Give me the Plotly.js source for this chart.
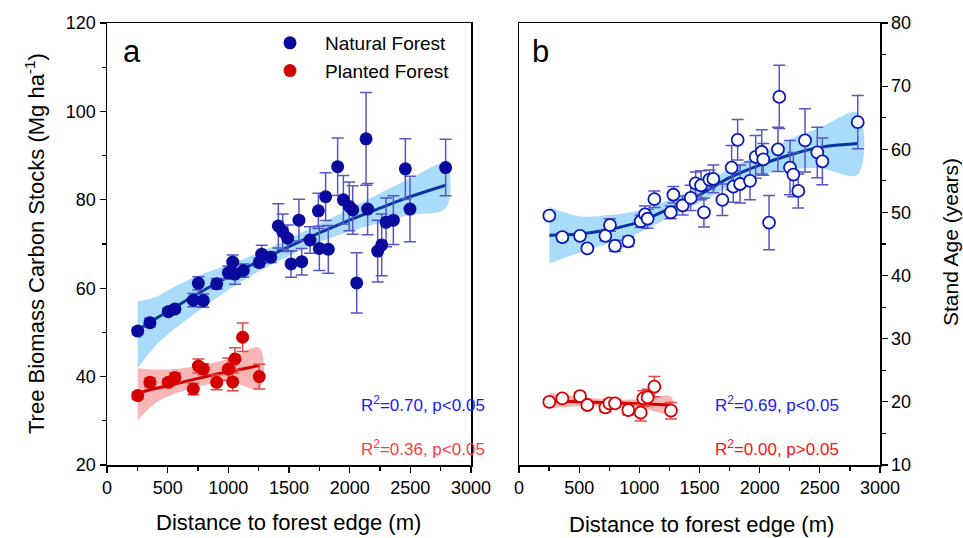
<!DOCTYPE html>
<html><head><meta charset="utf-8">
<script src="https://cdn.plot.ly/plotly-3.0.1.min.js"></script>
<style>html,body{margin:0;padding:0;background:#fff}#chart{width:963px;height:538px}</style>
</head><body><div id="chart"></div>
<script>
// ---- Panel a: Tree biomass carbon stocks ----
const natA_x = [253,354,505,560,711,753,794,904,1000,1036,1055,1124,1255,1275,1349,1412,1448,1489,1517,1582,1605,1673,1742,1750,1802,1824,1901,1948,1997,2025,2058,2135,2148,2231,2264,2300,2360,2459,2497,2791];
const natA_y = [50.3,52.2,54.7,55.3,57.3,61.1,57.2,61.0,63.5,65.9,63.2,64.0,65.8,67.7,67.0,74.1,72.8,71.3,65.5,75.4,66.0,70.9,77.5,69.0,80.7,68.8,87.5,80.0,78.5,77.7,61.2,93.8,77.9,68.4,69.8,74.9,75.4,87.0,77.9,87.3];
const natA_e = [0.8,1.0,0.8,0.8,1.5,1.5,1.5,1.2,1.5,1.6,2.3,1.5,1.0,2.0,1.2,5.0,4.0,3.0,3.0,4.7,3.0,3.0,4.0,5.0,5.4,5.4,6.5,5.5,5.5,5.5,6.8,10.5,5.8,7.0,7.0,5.5,5.5,6.8,7.4,6.4];
const plaA_x = [253,354,505,560,711,753,794,904,1000,1036,1055,1118,1255];
const plaA_y = [35.7,38.7,38.7,39.8,37.2,42.4,41.7,38.7,41.7,38.8,44.0,48.9,40.0];
const plaA_e = [0.8,1.0,0.8,1.0,1.3,1.6,1.2,1.7,2.5,2.0,2.5,3.2,2.8];
// fitted curves & confidence bands
const fitNatA_x = [253,400,500,750,1000,1250,1500,1750,2000,2250,2500,2791];
const fitNatA_y = [50.5,53.1,54.7,58.8,62.6,66.1,69.4,72.5,75.4,78.1,80.7,83.3];
const fitNatA_hi = [57.0,58.0,59.5,62.8,65.3,68.0,71.2,74.5,78.0,81.5,84.8,88.1];
const fitNatA_lo = [41.9,47.0,49.5,54.8,59.6,63.8,67.3,70.4,72.8,74.8,76.6,78.1];
const fitPlaA_x = [253,400,500,750,1000,1255];
const fitPlaA_y = [36.3,37.3,37.9,39.6,41.1,42.5];
const fitPlaA_hi = [41.9,41.6,41.6,42.4,44.0,46.5];
const fitPlaA_lo = [30.2,34.0,35.5,37.7,38.9,37.3];

// ---- Panel b: Stand age ----
const natB_x = [252,360,507,568,718,756,798,908,1011,1047,1069,1125,1261,1283,1360,1427,1468,1513,1537,1582,1615,1690,1767,1781,1817,1837,1920,1967,2017,2030,2078,2152,2163,2252,2280,2321,2377,2479,2521,2815];
const natB_y = [49.5,46.1,46.3,44.3,46.3,48.0,44.7,45.4,48.6,49.7,49.0,52.1,50.0,52.8,51.1,52.3,54.6,54.3,50.0,55.2,55.3,52.0,57.1,54.1,61.5,54.5,55.0,58.8,59.6,58.4,48.4,60.0,68.3,57.1,56.0,53.4,61.4,59.5,58.1,64.3];
const natB_e = [0.5,0.6,0.5,0.5,0.8,1.0,0.9,0.8,1.0,1.3,1.5,1.3,1.0,1.3,1.5,2.0,1.8,2.3,2.3,1.5,2.2,2.5,3.5,2.5,3.2,3.0,3.0,3.4,3.5,2.5,4.3,3.5,5.0,4.3,3.5,2.7,5.0,4.0,3.7,4.2];
const plaB_x = [252,360,507,568,718,751,798,908,1011,1033,1069,1125,1263];
const plaB_y = [20.0,20.55,20.9,19.5,19.13,19.77,19.77,18.7,18.28,20.55,20.7,22.4,18.6];
const plaB_e = [0.5,0.5,0.6,0.5,0.7,0.6,0.6,0.8,1.3,1.2,1.3,1.6,1.3];
const fitNatB_x = [252,500,750,1000,1250,1500,1750,2000,2250,2500,2815];
const fitNatB_y = [46.4,46.6,47.3,48.5,50.6,52.8,55.5,57.5,59.1,60.3,60.9];
const fitNatB_hi = [50.9,49.4,49.6,50.3,52.0,54.1,56.9,59.3,61.6,63.4,65.8];
const fitNatB_lo = [41.9,43.6,45.1,46.8,49.2,51.5,54.1,55.9,56.8,57.0,56.0];
const fitPlaB_x = [252,500,750,1000,1263];
const fitPlaB_y = [20.15,20.0,19.85,19.7,19.5];
const fitPlaB_hi = [21.4,20.8,20.4,20.4,20.8];
const fitPlaB_lo = [19.0,19.3,19.3,19.1,18.2];

const FONT = 'Arial, "Liberation Sans", sans-serif';
const NAVY = '#0a0a9c', ERRB = '#5656c8', LINEB = '#0836a0', BANDB = 'rgba(140,208,248,0.75)';
const RED = '#d40000', ERRR = '#e04848', LINER = '#d00000', BANDR = 'rgba(248,150,150,0.7)';

function band(x, hi, lo, color, xa, ya) {
  return {x: x.concat(x.slice().reverse()), y: hi.concat(lo.slice().reverse()),
    type:'scatter', mode:'lines', fill:'toself', fillcolor:color, line:{width:0, shape:'spline'},
    hoverinfo:'skip', showlegend:false, xaxis:xa, yaxis:ya};
}
function fitline(x, y, color, xa, ya) {
  return {x:x, y:y, type:'scatter', mode:'lines', line:{color:color, width:3, shape:'spline'},
    showlegend:false, xaxis:xa, yaxis:ya};
}
function pts(x, y, e, mcol, ecol, open, name, showleg, xa, ya) {
  return {x:x, y:y, type:'scatter', mode:'markers', name:name, showlegend:showleg,
    error_y:{type:'data', array:e, visible:true, color:ecol, thickness:1.5, width:6},
    marker:{size: open ? 12 : 13, color: open ? '#ffffff' : mcol, line:{color:mcol, width: open ? 1.8 : 0}},
    xaxis:xa, yaxis:ya};
}

const data = [
  band(fitNatA_x, fitNatA_hi, fitNatA_lo, BANDB, 'x', 'y'),
  band(fitPlaA_x, fitPlaA_hi, fitPlaA_lo, BANDR, 'x', 'y'),
  fitline(fitNatA_x, fitNatA_y, LINEB, 'x', 'y'),
  fitline(fitPlaA_x, fitPlaA_y, LINER, 'x', 'y'),
  pts(natA_x, natA_y, natA_e, NAVY, ERRB, false, 'Natural Forest', true, 'x', 'y'),
  pts(plaA_x, plaA_y, plaA_e, RED, ERRR, false, 'Planted Forest', true, 'x', 'y'),
  band(fitNatB_x, fitNatB_hi, fitNatB_lo, BANDB, 'x2', 'y2'),
  band(fitPlaB_x, fitPlaB_hi, fitPlaB_lo, BANDR, 'x2', 'y2'),
  fitline(fitNatB_x, fitNatB_y, LINEB, 'x2', 'y2'),
  fitline(fitPlaB_x, fitPlaB_y, LINER, 'x2', 'y2'),
  pts(natB_x, natB_y, natB_e, '#0a1ab8', ERRB, true, 'Natural Forest', false, 'x2', 'y2'),
  pts(plaB_x, plaB_y, plaB_e, RED, ERRR, true, 'Planted Forest', false, 'x2', 'y2')
];

const axBase = {showline:true, linecolor:'#000', linewidth:1.5, mirror:true, showgrid:false, zeroline:false,
  ticks:'outside', ticklen:6, tickwidth:1.2, tickcolor:'#000', tickfont:{family:FONT, size:18, color:'#000'}};

function ann(text, px, py, size, color, angle) {
  return {text:text, x:px/963, y:1-py/538, xref:'paper', yref:'paper', xanchor:'center', yanchor:'middle',
    showarrow:false, textangle:angle||0, font:{family:FONT, size:size, color:color}};
}

const layout = {
  width:963, height:538, margin:{l:0, r:0, t:0, b:0}, paper_bgcolor:'#fff', plot_bgcolor:'#fff',
  font:{family:FONT, color:'#000'},
  xaxis: Object.assign({}, axBase, {domain:[107/963, 471/963], range:[0,3000], tickvals:[0,500,1000,1500,2000,2500,3000],
    minor:{ticks:'outside', ticklen:4, tickcolor:'#000', dtick:250}, anchor:'y'}),
  yaxis: Object.assign({}, axBase, {domain:[1-465/538, 1-23/538], range:[20,120], dtick:20,
    minor:{ticks:'outside', ticklen:4, tickcolor:'#000', dtick:10}, anchor:'x'}),
  xaxis2: Object.assign({}, axBase, {domain:[519/963, 880/963], range:[0,3000], tickvals:[0,500,1000,1500,2000,2500,3000],
    minor:{ticks:'outside', ticklen:4, tickcolor:'#000', dtick:250}, anchor:'y2'}),
  yaxis2: Object.assign({}, axBase, {domain:[1-465/538, 1-23/538], range:[10,80], dtick:10, side:'right',
    minor:{ticks:'outside', ticklen:4, tickcolor:'#000', dtick:5}, anchor:'x2'}),
  legend:{x:255/963, y:1-24/538, xanchor:'left', yanchor:'top', bgcolor:'rgba(0,0,0,0)',
    font:{family:FONT, size:19, color:'#000'}, itemwidth:60, tracegroupgap:0},
  annotations:[
    ann('a', 132, 51, 31, '#000'),
    ann('b', 540, 51, 31, '#000'),
    ann('R<sup>2</sup>=0.70, p<0.05', 423, 404, 17, '#1a1aff'),
    ann('R<sup>2</sup>=0.36, p<0.05', 423, 448, 17, '#ff3b3b'),
    ann('R<sup>2</sup>=0.69, p<0.05', 777, 404, 17, '#1a1aff'),
    ann('R<sup>2</sup>=0.00, p>0.05', 777, 448, 17, '#ff1010'),
    ann('Distance to forest edge (m)', 288, 522, 22, '#000'),
    ann('Distance to forest edge (m)', 701, 524, 22, '#000'),
    ann('Tree Biomass Carbon Stocks (Mg ha<sup>-1</sup>)', 35, 244, 22, '#000', -90),
    ann('Stand Age (years)', 950, 242, 21, '#000', -90)
  ]
};
Plotly.newPlot('chart', data, layout, {staticPlot:true, displayModeBar:false});
</script>
</body></html>
